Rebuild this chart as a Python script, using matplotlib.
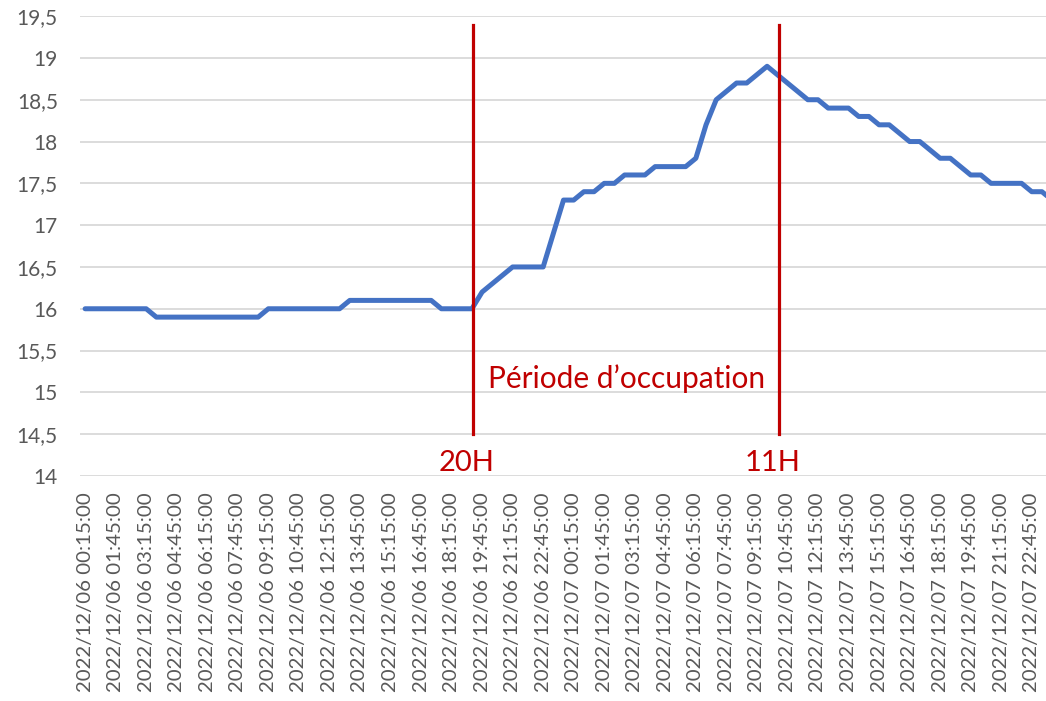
import matplotlib
matplotlib.use("Agg")
import matplotlib.pyplot as plt
import pandas as pd
from matplotlib.ticker import FuncFormatter

# temperature readings, every 30 min from 2022/12/06 00:15
temperature = [
    16.0, 16.0, 16.0, 16.0, 16.0, 16.0, 16.0,
    15.9, 15.9, 15.9, 15.9, 15.9, 15.9, 15.9, 15.9, 15.9, 15.9, 15.9,
    16.0, 16.0, 16.0, 16.0, 16.0, 16.0, 16.0, 16.0,
    16.1, 16.1, 16.1, 16.1, 16.1, 16.1, 16.1, 16.1, 16.1,
    16.0, 16.0, 16.0, 16.0,
    16.2, 16.3, 16.4, 16.5, 16.5, 16.5, 16.5,
    16.9, 17.3, 17.3, 17.4, 17.4, 17.5, 17.5,
    17.6, 17.6, 17.6, 17.7, 17.7, 17.7, 17.7,
    17.8, 18.2, 18.5, 18.6, 18.7, 18.7, 18.8, 18.9,
    18.8, 18.7, 18.6, 18.5, 18.5, 18.4, 18.4, 18.4,
    18.3, 18.3, 18.2, 18.2, 18.1, 18.0, 18.0,
    17.9, 17.8, 17.8, 17.7, 17.6, 17.6,
    17.5, 17.5, 17.5, 17.5, 17.4, 17.4, 17.3,
]
timestamps = pd.date_range("2022-12-06 00:15", periods=len(temperature), freq="30min")
tick_step = 3
tick_labels = [t.strftime("%Y/%m/%d %H:%M:%S") for t in timestamps[::tick_step]]

# occupation markers (category position) and their labels
marker_pos = [38.1, 68.2]
marker_label_pos = [37.5, 67.5]
marker_text = ["20H", "11H"]
period_text = "Période d’occupation"

blue = "#4472C4"
red = "#C00000"
grey = "#595959"

plt.rcParams["font.family"] = ["Lato", "DejaVu Sans"]

fig = plt.figure(figsize=(10.46, 7.01), dpi=100)
ax = fig.add_axes([0.0765, 0.321, 0.9235, 0.656])

x = list(range(len(temperature)))
ax.plot(x, temperature, color=blue, lw=3.6, solid_joinstyle="round",
        solid_capstyle="round", zorder=3)

ax.set_ylim(14, 19.5)
ax.set_yticks([14 + 0.5 * i for i in range(12)])
ax.yaxis.set_major_formatter(FuncFormatter(lambda v, p: f"{v:g}".replace(".", ",")))
ax.set_xlim(-0.5, 94.4)
ax.set_xticks(x[::tick_step])
ax.set_xticklabels(tick_labels, rotation=90, va="top", ha="center")

ax.grid(axis="y", color="#D9D9D9", lw=1.3)
ax.set_axisbelow(True)
for s in ax.spines.values():
    s.set_visible(False)
ax.tick_params(axis="both", length=0, colors=grey)
ax.tick_params(axis="x", pad=12, labelsize=14.7)
ax.tick_params(axis="y", pad=16, labelsize=15)

for pos, lpos, txt in zip(marker_pos, marker_label_pos, marker_text):
    ax.plot([pos, pos], [14.5, 19.39], color=red, lw=2.3, zorder=4, clip_on=False)
    ax.text(lpos, 14.16, txt, color=red, fontsize=21, ha="center", va="center")

ax.text(53.2, 15.17, period_text, color=red, fontsize=21.5, ha="center", va="center")

fig.savefig("out.png", dpi=100)
